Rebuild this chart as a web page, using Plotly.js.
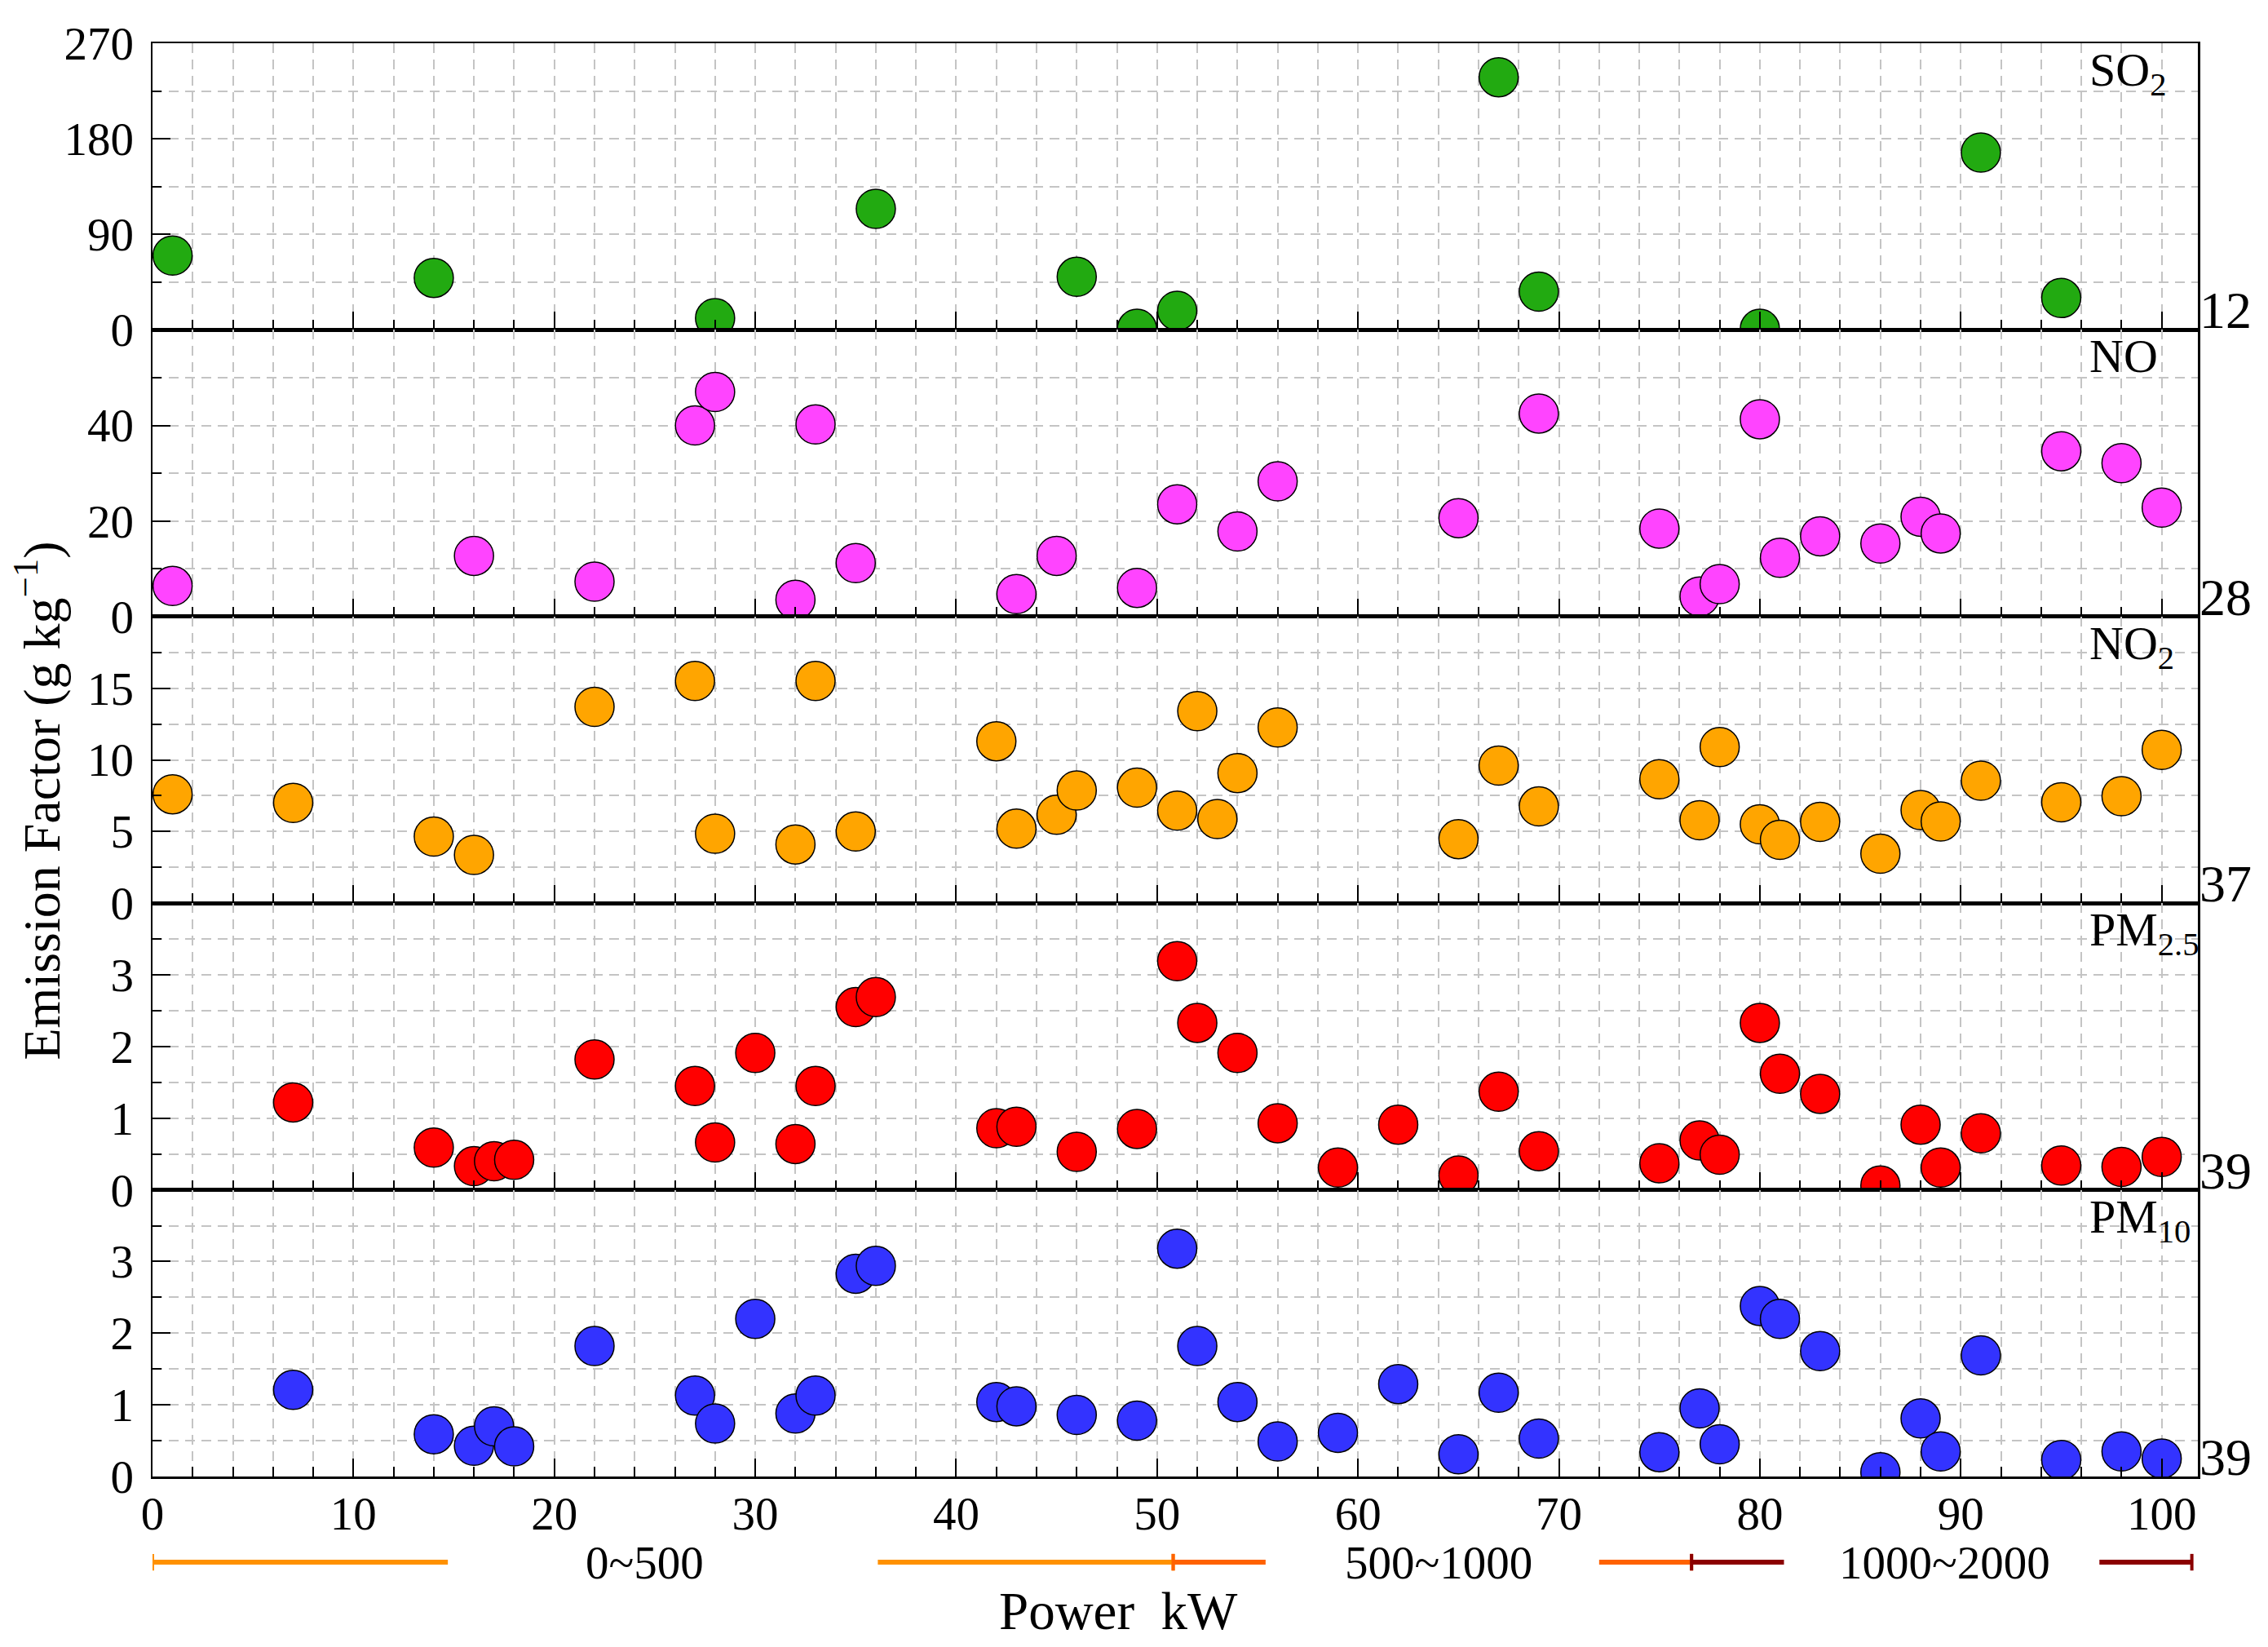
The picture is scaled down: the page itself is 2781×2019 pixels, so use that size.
<!DOCTYPE html>
<html>
<head>
<meta charset="utf-8">
<script src="https://cdn.plot.ly/plotly-3.0.1.min.js"></script>
<style>
  body { margin: 0; background: #fff; }
  #chart { width: 2781px; height: 2019px; }
</style>
</head>
<body>
<div id="chart"></div>
<script>
// power (kW) and emission factor (g/kg) per pollutant
const so2Power = [1, 14, 28, 36, 46, 49, 51, 67, 69, 80, 91, 95];
const so2Values = [70, 49, 11, 114, 50, 1, 18, 238, 36, 1, 167, 30];

const noPower = [1, 16, 22, 27, 28, 32, 33, 35, 43, 45, 49, 51, 54, 56, 65, 69, 75, 77, 78, 80, 81, 83, 86, 88, 89, 95, 98, 100];
const noValues = [6.4, 12.7, 7.3, 40.0, 47.0, 3.5, 40.2, 11.2, 4.7, 12.7, 6.0, 23.5, 17.8, 28.3, 20.6, 42.5, 18.4, 4.2, 6.8, 41.3, 12.3, 16.8, 15.3, 20.9, 17.4, 34.6, 32.1, 22.8];

const no2Power = [1, 7, 14, 16, 22, 27, 28, 32, 33, 35, 42, 43, 45, 46, 49, 51, 52, 53, 54, 56, 65, 67, 69, 75, 77, 78, 80, 81, 83, 86, 88, 89, 91, 95, 98, 100];
const no2Values = [7.6, 7.0, 4.65, 3.37, 13.7, 15.5, 4.85, 4.1, 15.5, 5.0, 11.3, 5.2, 6.17, 7.86, 8.06, 6.46, 13.4, 5.87, 9.08, 12.26, 4.47, 9.6, 6.75, 8.65, 5.79, 10.9, 5.5, 4.42, 5.67, 3.45, 6.5, 5.7, 8.55, 7.04, 7.47, 10.7];

const pm25Power = [7, 14, 16, 17, 18, 22, 27, 28, 30, 32, 33, 35, 36, 42, 43, 46, 49, 51, 52, 54, 56, 59, 62, 65, 67, 69, 75, 77, 78, 80, 81, 83, 86, 88, 89, 91, 95, 98, 100];
const pm25Values = [1.22, 0.59, 0.33, 0.40, 0.42, 1.82, 1.45, 0.66, 1.91, 0.64, 1.45, 2.55, 2.69, 0.86, 0.88, 0.53, 0.85, 3.19, 2.33, 1.91, 0.93, 0.31, 0.91, 0.20, 1.37, 0.54, 0.37, 0.69, 0.49, 2.33, 1.62, 1.34, 0.06, 0.91, 0.31, 0.79, 0.34, 0.32, 0.46];

const pm10Power = [7, 14, 16, 17, 18, 22, 27, 28, 30, 32, 33, 35, 36, 42, 43, 46, 49, 51, 52, 54, 56, 59, 62, 65, 67, 69, 75, 77, 78, 80, 81, 83, 86, 88, 89, 91, 95, 98, 100];
const pm10Values = [1.21, 0.59, 0.43, 0.70, 0.42, 1.82, 1.13, 0.74, 2.2, 0.88, 1.13, 2.83, 2.94, 1.04, 0.98, 0.86, 0.78, 3.18, 1.82, 1.04, 0.49, 0.61, 1.29, 0.31, 1.17, 0.53, 0.34, 0.95, 0.45, 2.38, 2.2, 1.75, 0.06, 0.81, 0.35, 1.69, 0.23, 0.35, 0.25];

const panelNames = ['SO<sub>2</sub>', 'NO', 'NO<sub>2</sub>', 'PM<sub>2.5</sub>', 'PM<sub>10</sub>'];
const sampleCounts = ['12', '28', '37', '39', '39'];
const yTickVals = [[0, 90, 180, 270], [0, 20, 40], [0, 5, 10, 15], [0, 1, 2, 3], [0, 1, 2, 3]];
const yMinorStep = [45, 10, 2.5, 0.5, 0.5];
const yRanges = [[0, 270], [0, 60], [0, 20], [0, 4], [0, 4]];

// power classes shown under the x axis
const bandLabels = ['0~500', '500~1000', '1000~2000'];
const bandEdges = [0, 50.8, 76.6, 101.5];
const bandLabelAt = [24.5, 64, 89.2];
const bandArms = [14.7, 4.6, 4.6];
const bandColors = ['#FF9100', '#FF6200', '#8B0000'];

const powers = [so2Power, noPower, no2Power, pm25Power, pm10Power];
const values = [so2Values, noValues, no2Values, pm25Values, pm10Values];
const colors = ['#22AA11', '#FF44FF', '#FFA500', '#FF0000', '#3333FF'];

const FONT = 'Liberation Serif';
const GRID = '#c4c4c4';

const traces = powers.map((p, i) => ({
    x: p,
    y: values[i],
    xaxis: i === 0 ? 'x' : 'x' + (i + 1),
    yaxis: i === 0 ? 'y' : 'y' + (i + 1),
    type: 'scatter',
    mode: 'markers',
    marker: {
        size: 48,
        color: colors[i],
        line: { color: '#000', width: 1.5 }
    },
    showlegend: false,
    hoverinfo: 'x+y'
}));

const layout = {
    width: 2781,
    height: 2019,
    margin: { l: 187, r: 86, t: 53, b: 209 },
    paper_bgcolor: '#fff',
    plot_bgcolor: '#fff',
    font: { family: FONT, size: 56, color: '#000' },
    annotations: [],
    shapes: []
};

for (let i = 0; i < 5; i++) {
    const sfx = i === 0 ? '' : String(i + 1);
    const top = 1 - i / 5;
    const bottom = 1 - (i + 1) / 5;

    layout['xaxis' + sfx] = {
        anchor: 'y' + sfx,
        matches: i === 0 ? undefined : 'x',
        range: [0, 101.8],
        dtick: 10,
        tick0: 0,
        ticks: 'inside',
        ticklen: 22,
        tickwidth: 2,
        tickcolor: '#000',
        showticklabels: i === 4,
        ticklabelstandoff: -6,
        tickfont: { family: FONT, size: 57 },
        showline: true,
        linecolor: '#000',
        linewidth: 2.5,
        mirror: true,
        showgrid: true,
        gridcolor: GRID,
        gridwidth: 2,
        griddash: '12px,8px',
        zeroline: false,
        minor: {
            dtick: 2,
            tick0: 0,
            ticks: 'inside',
            ticklen: 12,
            tickwidth: 2,
            tickcolor: '#000',
            showgrid: true,
            gridcolor: GRID,
            gridwidth: 2,
            griddash: '12px,8px'
        }
    };

    layout['yaxis' + sfx] = {
        anchor: 'x' + sfx,
        domain: [bottom, top],
        range: yRanges[i],
        tickmode: 'array',
        tickvals: yTickVals[i],
        ticks: 'inside',
        ticklen: 22,
        tickwidth: 2,
        tickcolor: '#000',
        ticklabelstandoff: 9,
        tickfont: { family: FONT, size: 57 },
        showline: true,
        linecolor: '#000',
        linewidth: 2.5,
        mirror: true,
        showgrid: true,
        gridcolor: GRID,
        gridwidth: 2,
        griddash: '12px,8px',
        zeroline: false,
        minor: {
            tickmode: 'linear',
            tick0: 0,
            dtick: yMinorStep[i],
            ticks: 'inside',
            ticklen: 11,
            tickwidth: 2,
            tickcolor: '#000',
            showgrid: true,
            gridcolor: GRID,
            gridwidth: 2,
            griddash: '12px,8px'
        }
    };

    // pollutant name, top right inside each panel
    layout.annotations.push({
        text: panelNames[i],
        xref: 'paper', x: 0.946, xanchor: 'left',
        yref: 'y' + sfx + ' domain', y: 1, yanchor: 'top', yshift: 2,
        showarrow: false,
        font: { family: FONT, size: 58 }
    });

    // number of samples, right of each panel
    layout.annotations.push({
        text: sampleCounts[i],
        xref: 'paper', x: 1, xanchor: 'left', xshift: 0,
        yref: 'y' + sfx + ' domain', y: 0, yanchor: 'bottom', yshift: -14,
        showarrow: false,
        font: { family: FONT, size: 64 }
    });
}

// axis titles
layout.annotations.push({
    text: 'Emission Factor (g kg<sup>\u22121</sup>)',
    xref: 'paper', x: -0.056, xanchor: 'center',
    yref: 'paper', y: 0.4713, yanchor: 'middle',
    textangle: -90,
    showarrow: false,
    font: { family: FONT, size: 64 }
});
layout.annotations.push({
    text: 'Power\u00a0 kW',
    xref: 'paper', x: 0.4723, xanchor: 'center',
    yref: 'paper', y: -0.0939, yanchor: 'middle',
    showarrow: false,
    font: { family: FONT, size: 65 }
});

// power class bars
const bandY = -0.0598;
const capH = 0.0058;
bandLabels.forEach((label, k) => {
    const a = bandEdges[k];
    const b = bandEdges[k + 1];
    const c = bandColors[k];
    const line = { color: c, width: 6 };
    layout.shapes.push(
        { type: 'line', xref: 'x5', yref: 'paper', x0: a, x1: a + bandArms[k], y0: bandY, y1: bandY, line },
        { type: 'line', xref: 'x5', yref: 'paper', x0: b - bandArms[k], x1: b, y0: bandY, y1: bandY, line },
        { type: 'line', xref: 'x5', yref: 'paper', x0: a, x1: a, y0: bandY - capH, y1: bandY + capH, line: { color: c, width: 4 } },
        { type: 'line', xref: 'x5', yref: 'paper', x0: b, x1: b, y0: bandY - capH, y1: bandY + capH, line: { color: c, width: 4 } }
    );
    layout.annotations.push({
        text: label,
        xref: 'x5', x: bandLabelAt[k], xanchor: 'center',
        yref: 'paper', y: bandY, yanchor: 'middle',
        showarrow: false,
        font: { family: FONT, size: 57 }
    });
});

Plotly.newPlot('chart', traces, layout, { displayModeBar: false, staticPlot: true });
</script>
</body>
</html>
